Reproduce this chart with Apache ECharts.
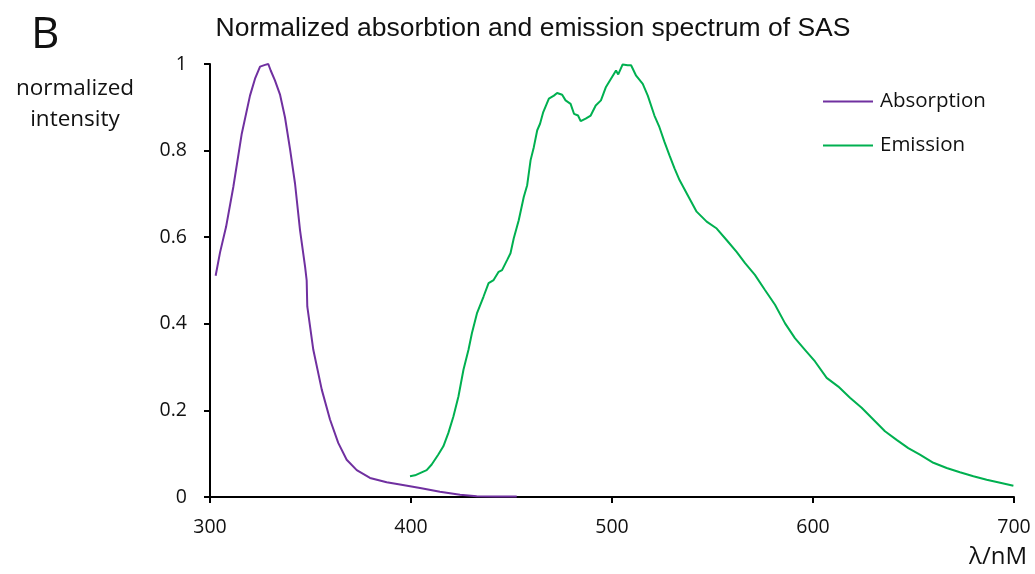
<!DOCTYPE html>
<html>
<head>
<meta charset="utf-8">
<script src="https://cdn.jsdelivr.net/npm/echarts@6/dist/echarts.min.js"></script>
<style>html,body{margin:0;padding:0;background:#fff}#c{width:1035px;height:574px}</style>
</head>
<body>
<div id="c"></div>
<script>
// Absorption spectrum
const absWavelength = [302.8,305,308,311.6,315.8,319.9,322.4,324.9,327.4,329,330.2,332.3,334.8,337.3,339.8,342.3,344.8,347.3,348.1,348.4,351.4,355.6,359.7,363.8,368,373,379.6,387.9,394.5,404.5,414.4,424.4,432.7,442,452.6];
const absIntensity  = [0.511,0.565,0.624,0.716,0.839,0.927,0.966,0.994,0.998,1.0,0.985,0.962,0.930,0.877,0.804,0.724,0.616,0.532,0.50,0.44,0.34,0.248,0.179,0.125,0.086,0.062,0.044,0.034,0.029,0.021,0.012,0.005,0.002,0.001,0.001];
// Emission spectrum
const emWavelength = [399.5,402,405.3,407.8,410.3,413.6,416.1,418.6,421.1,423.6,426.1,428.6,430.3,432.8,436.1,438.6,441.1,443.6,445.3,447.8,449.5,451.1,453.6,456.1,457.8,459.5,461.1,462.8,464.2,465.8,468.6,471.1,472.7,475.2,476.9,479.4,481.1,483.1,484.4,486.9,489.4,491.9,494.5,497,499.5,502,503.1,505.3,507.8,509.5,512,515.3,517.8,521.1,523.6,526.1,528.6,531.1,533.6,537.2,542.1,547.1,552.1,557.1,562,566.2,571.1,576.1,581.1,586.1,591,596,601,606.8,612.6,618.4,624.2,630,635.8,641.6,647.4,653.2,659.9,666.5,673.1,679.8,686.4,693.1,699.7];
const emIntensity  = [0.048,0.050,0.057,0.062,0.075,0.098,0.117,0.148,0.186,0.232,0.294,0.340,0.378,0.424,0.463,0.494,0.501,0.520,0.524,0.547,0.563,0.597,0.639,0.693,0.720,0.778,0.808,0.847,0.862,0.889,0.920,0.927,0.933,0.929,0.916,0.908,0.885,0.881,0.868,0.874,0.881,0.904,0.916,0.947,0.966,0.985,0.976,0.999,0.997,0.997,0.973,0.954,0.927,0.881,0.854,0.820,0.789,0.759,0.732,0.701,0.659,0.636,0.620,0.593,0.566,0.540,0.513,0.478,0.444,0.401,0.367,0.340,0.313,0.275,0.255,0.229,0.206,0.179,0.152,0.132,0.113,0.098,0.079,0.067,0.057,0.048,0.040,0.033,0.026];
const xTicks = [300,400,500,600,700];
const yTicks = [0,0.2,0.4,0.6,0.8,1];

const absData = absWavelength.map((x,i)=>[x,absIntensity[i]]);
const emData = emWavelength.map((x,i)=>[x,emIntensity[i]]);

const chart = echarts.init(document.getElementById('c'));
const font = 'Open Sans, Liberation Sans, sans-serif';
chart.setOption({
  animation:false,
  backgroundColor:'#fff',
  title:[
    {text:'Normalized absorbtion and emission spectrum of SAS',left:528,top:10,textAlign:'center',
     textStyle:{fontFamily:'Liberation Sans, Arial, sans-serif',fontSize:26.5,fontWeight:'normal',color:'#111'}},
    {text:'B',left:26,top:8,textStyle:{fontFamily:font,fontSize:44,fontWeight:'normal',color:'#111'}},
    {text:'normalized\nintensity',left:70,top:68,textAlign:'center',
     textStyle:{fontFamily:font,fontSize:22.5,fontWeight:'normal',color:'#111',lineHeight:31}},
    {text:'λ/nM',left:1027,top:545,textAlign:'right',padding:0,
     textStyle:{fontFamily:font,fontSize:24,fontWeight:'normal',color:'#111'}}
  ],
  legend:{
    orient:'vertical',left:823,top:91,padding:0,icon:'rect',itemWidth:50,itemHeight:2,itemGap:23,
    textStyle:{fontFamily:font,fontSize:20.5,color:'#111',padding:[0,0,0,2]},
    data:['Absorption','Emission']
  },
  grid:{left:210,right:21,top:64,bottom:77,containLabel:false},
  xAxis:{
    type:'value',min:xTicks[0],max:xTicks[xTicks.length-1],interval:100,
    axisLine:{lineStyle:{color:'#000',width:2}},
    axisTick:{show:true,length:6,lineStyle:{color:'#000',width:2}},
    axisLabel:{margin:20,fontFamily:font,fontSize:19.5,color:'#111'},
    splitLine:{show:false}
  },
  yAxis:{
    type:'value',min:yTicks[0],max:yTicks[yTicks.length-1],interval:0.2,
    axisLine:{show:true,lineStyle:{color:'#000',width:2}},
    axisTick:{show:true,length:6,lineStyle:{color:'#000',width:2}},
    axisLabel:{margin:23,fontFamily:font,fontSize:19.5,color:'#111'},
    splitLine:{show:false}
  },
  series:[
    {name:'Absorption',type:'line',data:absData,showSymbol:false,symbol:'none',smooth:false,
     lineStyle:{color:'#7030A0',width:2},itemStyle:{color:'#7030A0'}},
    {name:'Emission',type:'line',data:emData,showSymbol:false,symbol:'none',smooth:false,
     lineStyle:{color:'#00B050',width:2},itemStyle:{color:'#00B050'}}
  ]
});
</script>
</body>
</html>
